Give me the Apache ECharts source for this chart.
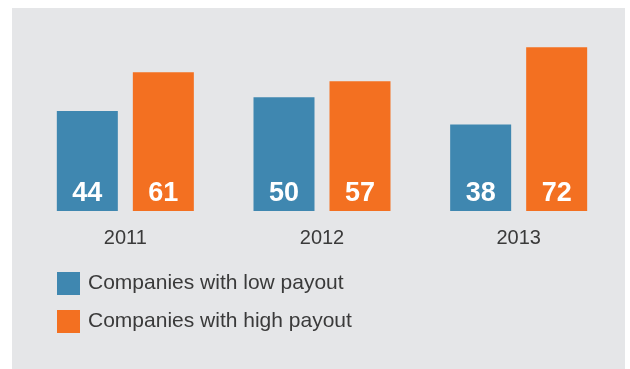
<!DOCTYPE html>
<html>
<head>
<meta charset="utf-8">
<style>
  html, body { margin: 0; padding: 0; background: #ffffff; }
  #chart { width: 630px; height: 369px; }
</style>
<script src="https://cdn.jsdelivr.net/npm/echarts@6/dist/echarts.min.js"></script>
</head>
<body>
<div id="chart"></div>
<script>
// Payout groups by year
const years = ['2011', '2012', '2013'];
const lowPayout = [44, 50, 38];
const highPayout = [61, 57, 72];
const seriesNames = ['Companies with low payout', 'Companies with high payout'];

const chart = echarts.init(document.getElementById('chart'), null, { renderer: 'canvas' });

const valueLabel = {
  show: true,
  position: 'insideBottom',
  distance: 4,
  color: '#ffffff',
  fontFamily: 'Liberation Sans, Arial, sans-serif',
  fontWeight: 'bold',
  fontSize: 27,
  lineHeight: 27
};

chart.setOption({
  backgroundColor: '#ffffff',
  animation: false,
  graphic: [{
    type: 'rect',
    z: -10,
    silent: true,
    shape: { x: 12, y: 8, width: 613, height: 361 },
    style: { fill: '#e5e6e8' }
  }],
  grid: { left: 27, right: 13, top: 29, bottom: 158 },
  legend: {
    orient: 'vertical',
    left: 57,
    top: 272,
    padding: 0,
    itemWidth: 23,
    itemHeight: 23,
    itemGap: 15,
    icon: 'rect',
    textStyle: {
      fontFamily: 'Liberation Sans, Arial, sans-serif',
      fontSize: 21,
      color: '#3a3a3a',
      padding: [0, 0, 0, 3]
    },
    data: seriesNames
  },
  xAxis: {
    type: 'category',
    data: years,
    axisLine: { show: false },
    axisTick: { show: false },
    axisLabel: {
      margin: 17,
      fontFamily: 'Liberation Sans, Arial, sans-serif',
      fontSize: 20,
      color: '#3a3a3a'
    }
  },
  yAxis: {
    type: 'value',
    min: 0,
    max: 80,
    show: false,
    splitLine: { show: false }
  },
  series: [
    {
      name: seriesNames[0],
      type: 'bar',
      data: lowPayout,
      barWidth: 61,
      barGap: '24.6%',
      itemStyle: { color: '#3f87b0' },
      label: valueLabel
    },
    {
      name: seriesNames[1],
      type: 'bar',
      data: highPayout,
      barWidth: 61,
      barGap: '24.6%',
      itemStyle: { color: '#f37021' },
      label: valueLabel
    }
  ]
});
</script>
</body>
</html>
